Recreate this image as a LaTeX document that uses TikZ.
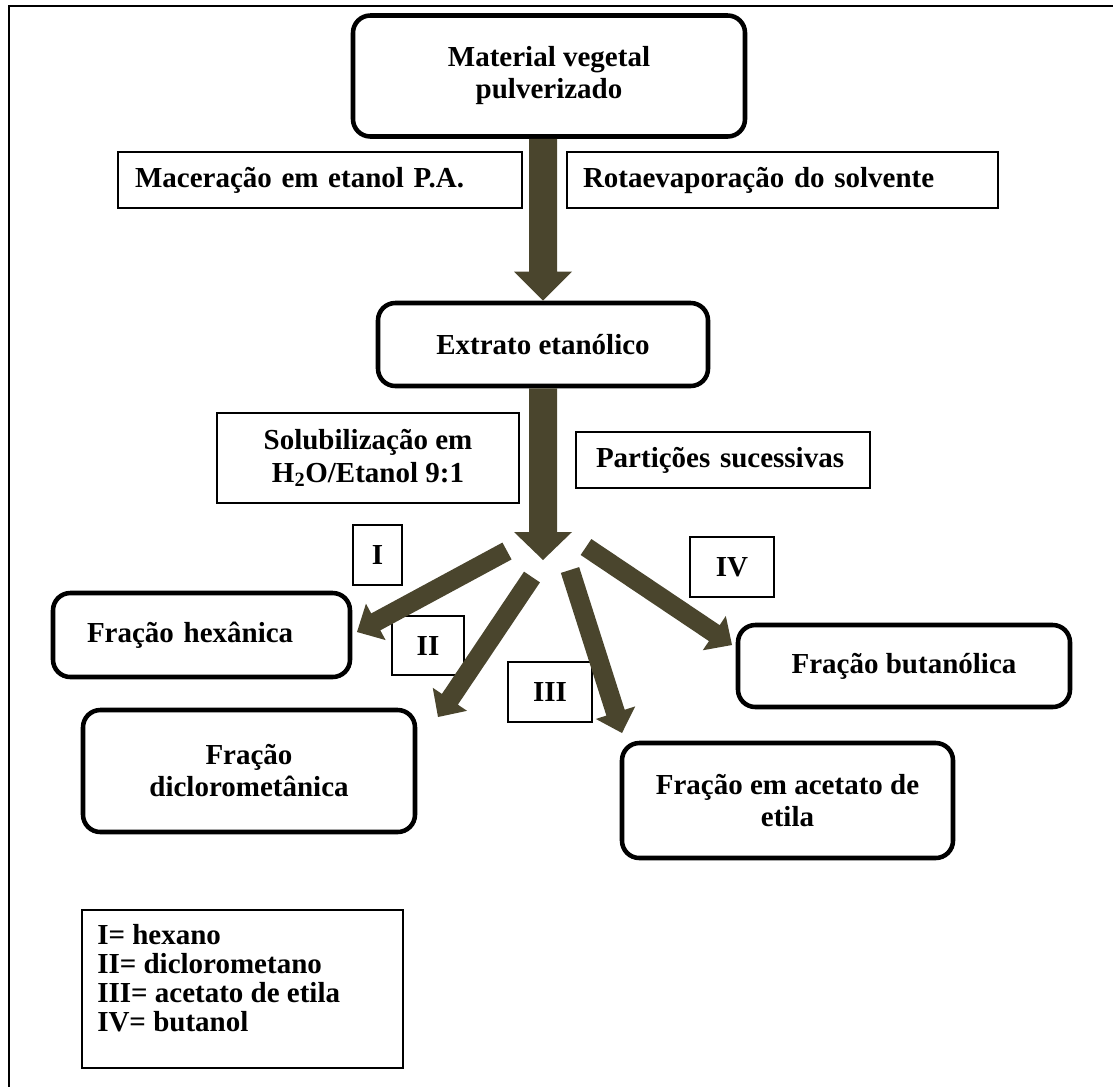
\documentclass[tikz,border=0pt]{standalone}
\usepackage{fontspec}
\setmainfont{Liberation Serif}
\usetikzlibrary{calc}
\definecolor{arrowcol}{RGB}{74,69,45}
% block arrow: start, end, half shaft, half head, head length
\newcommand\blkarrow[5]{%
  \path ($(#2)!#5!(#1)$) coordinate (hbase);
  \fill[arrowcol] ($(#1)!#3!90:(#2)$) -- ($(hbase)!#3!90:(#2)$) -- ($(hbase)!#4!90:(#2)$) -- (#2) -- ($(hbase)!#4!-90:(#2)$) -- ($(hbase)!#3!-90:(#2)$) -- ($(#1)!#3!-90:(#2)$) -- cycle;}
\begin{document}
\begin{tikzpicture}[x=0.75pt,y=-0.75pt,
  txt/.style={font=\fontsize{21.75}{24}\selectfont\bfseries},
  roundbox/.style={txt,draw,line width=3.4pt,rounded corners=13pt,align=center,inner sep=0pt},
  sqbox/.style={txt,draw,line width=1.8pt,inner sep=0pt,align=center},
  leftbox/.style={txt,draw,line width=1.8pt,inner ysep=0pt}]
\useasboundingbox (0,0) rectangle (1113,1086);
\draw[line width=2pt] (9,1090) -- (9,6) -- (1120,6);

\node[roundbox,minimum width=294pt,minimum height=90.75pt] (mat) at (549,76) {Material vegetal\\pulverizado};
\node[leftbox,text width=277.5pt,inner xsep=12.75pt,minimum height=42pt] (mac) at (320,180) {Maceração em etanol P.A.};
\node[leftbox,text width=299.25pt,inner xsep=12pt,minimum height=42pt] (rot) at (782.5,180) {Rotaevaporação do solvente};
\node[roundbox,minimum width=247.5pt,minimum height=62.25pt] (ext) at (543,344.5) {Extrato etanólico};
\node[sqbox,font=\fontsize{21.75}{24.75}\selectfont\bfseries,minimum width=226.5pt,minimum height=67.5pt] (sol) at (368,458) {Solubilização em\\H\textsubscript{2}O/Etanol 9:1};
\node[leftbox,text width=190.5pt,inner xsep=15pt,minimum height=42pt] (par) at (723,460) {Partições sucessivas};

\node[sqbox,minimum width=36.75pt,minimum height=45pt] (bI) at (377.5,555) {I};
\node[sqbox,minimum width=54pt,minimum height=44.25pt] (bII) at (428,645.5) {II};
\node[sqbox,minimum width=63pt,minimum height=45pt] (bIII) at (550,692) {III};
\node[sqbox,minimum width=63pt,minimum height=45pt] (bIV) at (732,567) {IV};

\node[txt,draw,line width=3.4pt,rounded corners=13pt,inner ysep=0pt,text width=171.75pt,inner xsep=25.5pt,minimum height=63pt] (hex) at (201.5,635) {Fração hexânica};
\node[roundbox,minimum width=249pt,minimum height=91.5pt] (dic) at (249,771) {Fração\\diclorometânica};
\node[roundbox,minimum width=249pt,minimum height=61.5pt] (but) at (904,666) {Fração butanólica};
\node[roundbox,minimum width=248.25pt,minimum height=86.25pt] (ace) at (787.5,800.5) {Fração em acetato de\\etila};

\node[sqbox,minimum width=240.75pt,minimum height=118.5pt] (leg) at (242.5,989) {};
\node[txt,font=\fontsize{21.75}{21.75}\selectfont\bfseries,align=left,inner sep=0pt,anchor=north west] (legtext) at (97,924) {I= hexano\\II= diclorometano\\III= acetato de etila\\IV= butanol};

\coordinate (a1s) at (ext.north |- mat.south);
\coordinate (split) at (543,560);
\coordinate (sI) at (507,551);
\coordinate (tI) at (357,632);
\coordinate (sII) at (532,577);
\coordinate (tII) at (438,717);
\coordinate (sIII) at (570,570);
\coordinate (tIII) at (622,733);
\coordinate (sIV) at (586,547);
\coordinate (tIV) at (732,645);

\blkarrow{a1s}{ext.north}{10.5pt}{21.75pt}{21.75pt}
\blkarrow{ext.south}{split}{10.5pt}{21.75pt}{21pt}
\blkarrow{sI}{tI}{7.2pt}{15.5pt}{16pt}
\blkarrow{sII}{tII}{7.2pt}{15.5pt}{16pt}
\blkarrow{sIII}{tIII}{7.2pt}{15.5pt}{16pt}
\blkarrow{sIV}{tIV}{7.2pt}{15.5pt}{16pt}
\end{tikzpicture}
\end{document}
